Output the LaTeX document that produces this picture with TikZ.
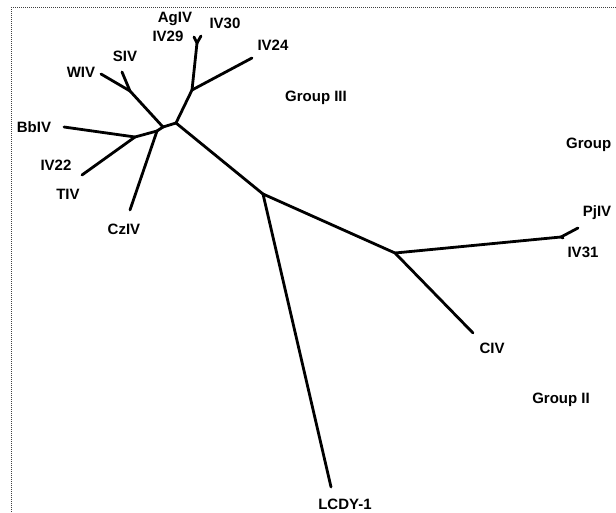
\documentclass[tikz,border=0pt]{standalone}
\usepackage{fontspec}
\setmainfont{Liberation Sans}
\begin{document}
\begin{tikzpicture}[x=1pt,y=-1pt,
  branch/.style={line width=2.8pt,line cap=round,line join=round},
  lbl/.style={font=\fontsize{15}{16}\selectfont\bfseries,inner sep=0pt},
  frame/.style={draw=black!75,densely dotted,line width=1pt}]
\useasboundingbox (0,0) rectangle (616,513);
\fill[white] (0,0) rectangle (616,513);
\draw[frame] (11,520) -- (11,8) -- (620,8);
% internal nodes
\coordinate (A) at (176,123);
\coordinate (B) at (163,127);
\coordinate (C) at (157,131);
\coordinate (D) at (135,137);
\coordinate (E) at (130,91);
\coordinate (F) at (192,90);
\coordinate (Fy) at (197,43);
\coordinate (G) at (263,194);
\coordinate (H) at (395,253);
\coordinate (I) at (561,237);
% tips
\coordinate (tWIV) at (101,74);
\coordinate (tSIV) at (122,72);
\coordinate (tBbIV) at (64,127);
\coordinate (tIV22) at (82,175);
\coordinate (tCzIV) at (130,210);
\coordinate (tIV29) at (194,37);
\coordinate (tIV30) at (201,36);
\coordinate (tIV24) at (252,58);
\coordinate (tLCDY) at (331,487);
\coordinate (tCIV) at (473,333);
\coordinate (tPjIV) at (578,228);
\coordinate (tIV31) at (563,238);
% branches
\draw[branch] (A) -- (B);
\draw[branch] (B) -- (E);
\draw[branch] (E) -- (tWIV);
\draw[branch] (E) -- (tSIV);
\draw[branch] (B) -- (C);
\draw[branch] (C) -- (tCzIV);
\draw[branch] (C) -- (D);
\draw[branch] (D) -- (tBbIV);
\draw[branch] (D) -- (tIV22);
\draw[branch] (A) -- (F);
\draw[branch] (F) -- (Fy);
\draw[branch] (Fy) -- (tIV29);
\draw[branch] (Fy) -- (tIV30);
\draw[branch] (F) -- (tIV24);
\draw[branch] (A) -- (G);
\draw[branch] (G) -- (tLCDY);
\draw[branch] (G) -- (H);
\draw[branch] (H) -- (tCIV);
\draw[branch] (H) -- (I);
\draw[branch] (I) -- (tPjIV);
\draw[branch] (I) -- (tIV31);
% labels
\node[lbl] (lAgIV) at (175,19) {AgIV};
\node[lbl] (lIV30) at (225,23) {IV30};
\node[lbl] (lIV29) at (168,36) {IV29};
\node[lbl] (lIV24) at (273,45) {IV24};
\node[lbl] (lSIV) at (125,56) {SIV};
\node[lbl] (lWIV) at (81,72) {WIV};
\node[lbl] (lBbIV) at (34,127) {BbIV};
\node[lbl] (lIV22) at (56,165) {IV22};
\node[lbl] (lTIV) at (68,194) {TIV};
\node[lbl] (lCzIV) at (124,229) {CzIV};
\node[lbl] (lG3) at (316,98) {Group III};
\node[lbl,anchor=west] (lG1) at (566,145) {Group};
\node[lbl] (lPjIV) at (597,213) {PjIV};
\node[lbl] (lIV31) at (583,252) {IV31};
\node[lbl] (lCIV) at (492,348) {CIV};
\node[lbl] (lG2) at (561,400) {Group II};
\node[lbl] (lLCDY) at (345,504) {LCDY-1};
\end{tikzpicture}
\end{document}
